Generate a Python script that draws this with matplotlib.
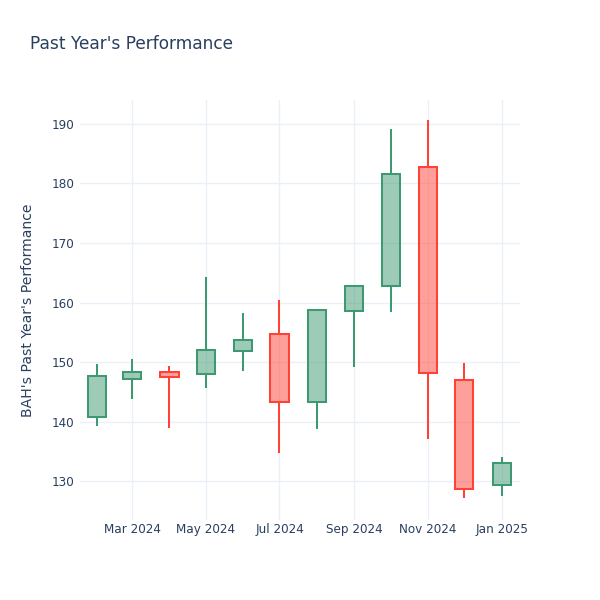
import matplotlib
matplotlib.use("Agg")
import matplotlib.pyplot as plt
import matplotlib.dates as mdates
from datetime import datetime

plt.rcParams['font.family'] = ['DejaVu Sans']

dates = ["2024-02-01", "2024-03-01", "2024-04-01", "2024-05-01", "2024-06-01", "2024-07-01",
         "2024-08-01", "2024-09-01", "2024-10-01", "2024-11-01", "2024-12-01", "2025-01-01"]
opens  = [140.8, 147.1, 148.4, 148.0, 151.9, 154.7, 143.2, 158.5, 162.8, 182.8, 147.0, 129.4]
highs  = [149.7, 150.5, 149.4, 164.3, 158.2, 160.5, 158.9, 162.9, 189.1, 190.6, 149.9, 134.1]
lows   = [139.3, 143.7, 138.9, 145.7, 148.5, 134.7, 138.7, 149.1, 158.4, 137.0, 127.1, 127.5]
closes = [147.7, 148.4, 147.5, 152.1, 153.7, 143.2, 158.7, 162.7, 181.6, 148.2, 128.7, 133.1]

tick_dates = ["2024-03-01", "2024-05-01", "2024-07-01", "2024-09-01", "2024-11-01", "2025-01-01"]
tick_labels = ["Mar 2024", "May 2024", "Jul 2024", "Sep 2024", "Nov 2024", "Jan 2025"]

title = "Past Year's Performance"
ylabel = "BAH's Past Year's Performance"

INC = "#3D9970"
DEC = "#FF4136"
TXT = "#2a3f5f"
GRID = "#EBF0F8"

fig = plt.figure(figsize=(6, 6), dpi=100)
ax = fig.add_axes([80/600, 80/600, 440/600, 420/600])

xd = [mdates.date2num(datetime.strptime(d, "%Y-%m-%d")) for d in dates]
width = 15.0
lw = 1.45
for x, o, h, l, c in zip(xd, opens, highs, lows, closes):
    col = INC if c >= o else DEC
    top, bot = max(o, c), min(o, c)
    ax.bar(x, top - bot, bottom=bot, width=width, color=col, alpha=0.5, linewidth=0, zorder=3)
    ax.bar(x, top - bot, bottom=bot, width=width, fill=False, edgecolor=col, linewidth=lw, zorder=4)
    ax.vlines(x, top, h, color=col, linewidth=lw, zorder=4)
    ax.vlines(x, l, bot, color=col, linewidth=lw, zorder=4)

ax.set_xlim(mdates.date2num(datetime(2024, 1, 18)), mdates.date2num(datetime(2025, 1, 16)))
ax.set_ylim(123.45, 194.03)

ax.set_xticks([mdates.date2num(datetime.strptime(d, "%Y-%m-%d")) for d in tick_dates])
ax.set_xticklabels(tick_labels)
ax.set_yticks([130, 140, 150, 160, 170, 180, 190])

for s in ax.spines.values():
    s.set_visible(False)
ax.grid(True, color=GRID, linewidth=1, zorder=0)
ax.set_axisbelow(True)
ax.tick_params(axis='both', length=0, labelsize=8.64, colors=TXT, pad=4)
ax.tick_params(axis='x', pad=2.5)

ax.set_ylabel(ylabel, fontsize=10.08, color=TXT, labelpad=12)
fig.text(30/600, 1 - 44/600, title, fontsize=12.24, color=TXT, ha='left', va='center')

fig.savefig("out.png", dpi=100)
